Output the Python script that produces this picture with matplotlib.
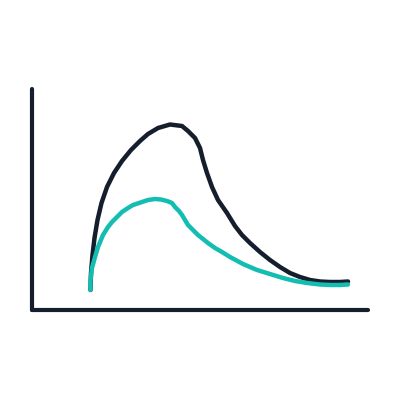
import matplotlib
matplotlib.use("Agg")
import matplotlib.pyplot as plt

# data (arbitrary units)
dark_x = [58.5, 59, 60.5, 62.5, 65.5, 69.5, 75, 82, 90, 99, 108, 116, 126, 138, 150, 156, 163, 168,
          171, 175, 180, 186, 195, 203, 210, 218, 228, 238, 248, 258, 268, 278, 288, 298, 308, 316]
dark_y = [20, 37, 55, 72, 90, 107, 123, 137, 149, 160, 169, 176, 182, 185.5, 184, 179, 172, 162,
          150, 137, 123, 110, 97, 84, 75, 67, 58, 50, 43, 37, 33, 30, 28.5, 28, 28, 28.5]

teal_x = [58.5, 58.5, 60, 63, 66, 71, 76, 80, 85, 90, 96, 101, 110, 116, 123, 129, 135, 140, 143, 147,
          150, 153, 156, 161, 166, 171, 176, 183, 190, 198, 211, 225, 238, 251, 263, 275, 288, 298, 308, 316]
teal_y = [20, 30, 42, 53, 63, 75, 83, 88, 93, 98, 102, 105, 108, 110, 111, 110.5, 109, 107, 103, 99,
          95, 90, 85, 80, 75, 71, 67, 62, 58, 53, 46, 40, 36, 32, 29, 27, 25.5, 25, 25, 25.5]

navy = "#141e2d"
teal = "#14bdb1"

fig = plt.figure(figsize=(4, 4), dpi=100)
ax = fig.add_axes([0.08, 0.225, 0.84, 0.5525])

ax.plot(dark_x, dark_y, color=navy, lw=3.2, solid_capstyle="round", solid_joinstyle="round", clip_on=False)
ax.plot(teal_x, teal_y, color=teal, lw=3.2, solid_capstyle="round", solid_joinstyle="round", clip_on=False)

ax.set_xlim(0, 336)
ax.set_ylim(0, 221)
for s in ["top", "right"]:
    ax.spines[s].set_visible(False)
for s in ["left", "bottom"]:
    ax.spines[s].set_linewidth(3.0)
    ax.spines[s].set_color(navy)
    ax.spines[s].set_capstyle("round")
ax.set_xticks([])
ax.set_yticks([])

fig.savefig("out.png", dpi=100)
